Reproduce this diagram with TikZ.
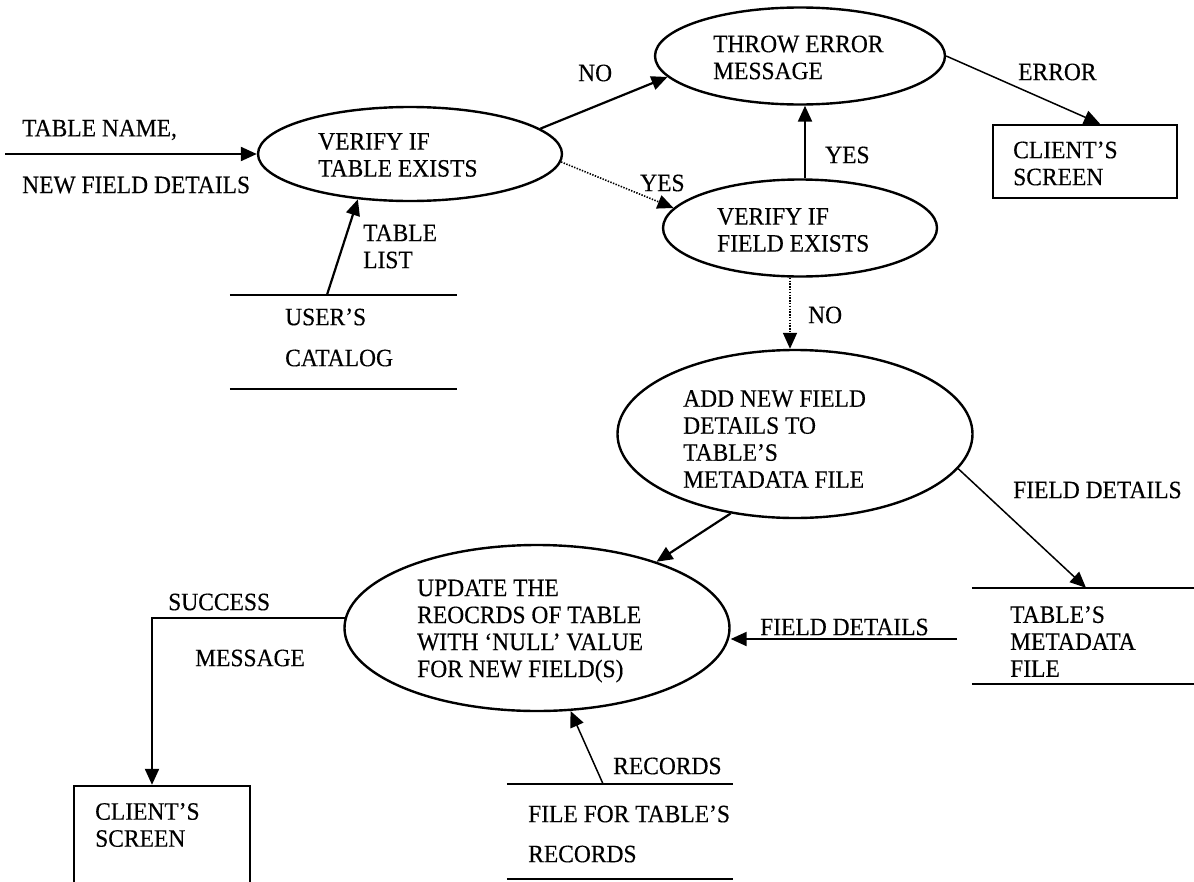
\documentclass[tikz,border=0pt]{standalone}
\usepackage{fontspec}
\setmainfont[FakeStretch=0.94,FakeBold=0.3]{Liberation Serif}
\usetikzlibrary{arrows.meta,shapes.geometric,calc}
\begin{document}
\begin{tikzpicture}[x=1pt,y=-1pt,
  txt/.style={inner sep=0pt, align=left, anchor=west, font=\fontsize{25}{27}\selectfont},
  proc/.style={draw, ellipse, line width=2.4pt, inner sep=0pt},
  term/.style={draw, rectangle, line width=2.4pt, inner sep=0pt},
  store/.style={rectangle, inner sep=0pt},
  storeline/.style={line width=2.4pt},
  flow/.style={line width=2.2pt, -{Triangle[length=16pt,width=14pt]}},
  thinflow/.style={line width=1.5pt, -{Triangle[length=16pt,width=14pt]}},
  dotflow/.style={line width=1.6pt, dash pattern=on 1.4pt off 1.4pt, -{Triangle[length=16pt,width=14pt]}},
]
\fill[white] (0,0) rectangle (1194,881);
\useasboundingbox (0,0) rectangle (1194,881);
\clip (0,0) rectangle (1194,881);

% processes
\node[proc, minimum width=304pt, minimum height=94pt]  (vt)    at (410,154) {};
\node[proc, minimum width=290pt, minimum height=97pt]  (throw) at (800,56)  {};
\node[proc, minimum width=274pt, minimum height=97pt]  (field) at (800,228) {};
\node[proc, minimum width=355pt, minimum height=168pt] (add)   at (795,434) {};
\node[proc, minimum width=385pt, minimum height=166pt] (upd)   at (537,628) {};

\node[txt] (vtT)    at (318,155)   {VERIFY IF\\TABLE EXISTS};
\node[txt] (throwT) at (713,57.5)  {THROW ERROR\\MESSAGE};
\node[txt] (fieldT) at (717,230)   {VERIFY IF\\FIELD EXISTS};
\node[txt] (addT)   at (683,439)   {ADD NEW FIELD\\DETAILS TO\\TABLE’S\\METADATA FILE};
\node[txt] (updT)   at (417,631)   {UPDATE THE\\REOCRDS OF TABLE\\WITH ‘NULL’ VALUE\\FOR NEW FIELD(S)};

% external entities
\node[term, minimum width=184pt, minimum height=73pt]  (cs1) at (1085,161.5) {};
\node[term, minimum width=176pt, minimum height=114pt] (cs2) at (162,843) {};
\node[txt] (cs1T) at (1013,163.5) {CLIENT’S\\SCREEN};
\node[txt] (cs2T) at (95,825)     {CLIENT’S\\SCREEN};

% data stores
\node[store, minimum width=227pt, minimum height=94pt] (cat)  at (343.5,342) {};
\node[store, minimum width=228pt, minimum height=96pt] (meta) at (1086,636) {};
\node[store, minimum width=226pt, minimum height=95pt] (rec)  at (620,831.5) {};
\draw[storeline] (cat.north west) -- (cat.north east) (cat.south west) -- (cat.south east);
\draw[storeline] (meta.north west) -- (meta.north east) (meta.south west) -- (meta.south east);
\draw[storeline] (rec.north west) -- (rec.north east) (rec.south west) -- (rec.south east);
\node[txt] (catT)  at (285,337.5)  {USER’S\\[14pt]CATALOG};
\node[txt] (metaT) at (1010,641.5) {TABLE’S\\METADATA\\FILE};
\node[txt] (recT)  at (528,834)    {FILE FOR TABLE’S\\[13pt]RECORDS};

% free ends
\coordinate (inp)  at (5,154);
\coordinate (fdin) at (957,639);

% flows
\draw[flow] (inp) -- (vt.west);
\draw[flow] ([xshift=-16.5pt]cat.north) -- (vt.221);
\draw[flow] (vt.11) -- (throw.189.6);
\draw[dotflow] (vt.-3) -- (field.171.8);
\draw[flow] ([xshift=5pt]field.north) -- ([xshift=5pt]field.north |- throw.south);
\draw[thinflow] (throw.east) -- ([xshift=15pt]cs1.north);
\draw[dotflow] ([xshift=-10pt]field.south) -- ([xshift=-10pt]field.south |- add.north);
\draw[flow] (add.231.3) -- (upd.29.2);
\draw[thinflow] (add.-12.7) -- (meta.north);
\draw[flow] (fdin) -- (fdin -| upd.east);
\draw[thinflow] ([xshift=-17pt]rec.north) -- (upd.292.4);
\draw[flow] (upd.177) -| ([xshift=-10pt]cs2.north);

% flow labels
\node[txt] (lIn1)  at (22,130)   {TABLE NAME,};
\node[txt] (lIn2)  at (22,185)   {NEW FIELD DETAILS};
\node[txt] (lTL)   at (363,246.5) {TABLE\\LIST};
\node[txt] (lNo1)  at (578,73)   {NO};
\node[txt] (lYes1) at (640,183)  {YES};
\node[txt] (lYes2) at (825,155)  {YES};
\node[txt] (lErr)  at (1018,72)  {ERROR};
\node[txt] (lNo2)  at (808,315)  {NO};
\node[txt] (lFD1)  at (1013,490) {FIELD DETAILS};
\node[txt] (lFD2)  at (760,627)  {FIELD DETAILS};
\node[txt] (lRec)  at (613,766)  {RECORDS};
\node[txt] (lSuc)  at (168,602)  {SUCCESS};
\node[txt] (lMsg)  at (195,658)  {MESSAGE};
\end{tikzpicture}
\end{document}
